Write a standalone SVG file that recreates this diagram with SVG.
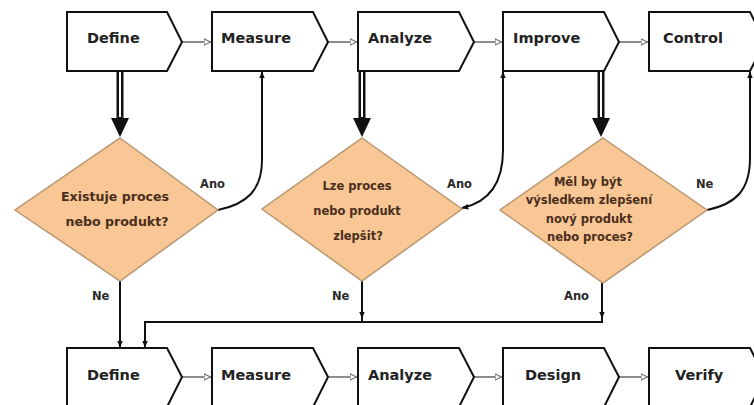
<svg xmlns="http://www.w3.org/2000/svg" width="754" height="405" viewBox="0 0 754 405">
  <defs>
    <style>
      .step { fill: #ffffff; stroke: #111111; stroke-width: 2; }
      .step-label { font-family: "DejaVu Sans", Verdana, sans-serif; font-size: 14.5px; font-weight: bold; fill: #222222; }
      .decision { fill: #F8C795; stroke: #B99670; stroke-width: 1.5; }
      .decision-label { font-family: "DejaVu Sans", Verdana, sans-serif; font-size: 11.5px; font-weight: bold; fill: #4a2e1c; text-anchor: middle; }
      .decision-label.large { font-size: 12.6px; }
      .branch-label { font-family: "DejaVu Sans", Verdana, sans-serif; font-size: 11.5px; font-weight: bold; fill: #2a2a2a; }
      .seq { fill: none; stroke: #666666; stroke-width: 1.5; marker-end: url(#open-tri); }
      .flow { fill: none; stroke: #111111; stroke-width: 2; }
      .flow-end { marker-end: url(#small-arrow); }
      .thick-outer { stroke: #111111; stroke-width: 7; fill: none; }
      .thick-inner { stroke: #ffffff; stroke-width: 2; fill: none; }
      .head { fill: #111111; }
    </style>
    <marker id="open-tri" viewBox="0 0 10 10" refX="10" refY="5" markerWidth="8" markerHeight="8" markerUnits="userSpaceOnUse" orient="auto">
      <path d="M0,1 L8,5 L0,9 Z" fill="#ffffff" stroke="#777777" stroke-width="1.5"/>
    </marker>
    <marker id="small-arrow" viewBox="0 0 10 10" refX="9" refY="5" markerWidth="7" markerHeight="7" markerUnits="userSpaceOnUse" orient="auto">
      <path d="M0,1 L10,5 L0,9 Z" fill="#111111"/>
    </marker>
    <marker id="small-arrow-start" viewBox="0 0 10 10" refX="1" refY="5" markerWidth="7" markerHeight="7" markerUnits="userSpaceOnUse" orient="auto">
      <path d="M10,1 L0,5 L10,9 Z" fill="#111111"/>
    </marker>
  </defs>

  <rect width="754" height="405" fill="#ffffff"/>

  <!-- connectors -->
  <g id="connectors">
    <!-- sequence links, top row -->
    <path class="seq" d="M182,42 H212"/>
    <path class="seq" d="M328,42 H358"/>
    <path class="seq" d="M474,42 H503"/>
    <path class="seq" d="M619,42 H649"/>
    <!-- sequence links, bottom row -->
    <path class="seq" d="M182,377 H212"/>
    <path class="seq" d="M328,377 H358"/>
    <path class="seq" d="M474,377 H503"/>
    <path class="seq" d="M619,377 H649"/>

    <!-- heavy arrows from steps into decisions -->
    <g>
      <line class="thick-outer" x1="120" y1="72" x2="120" y2="120"/>
      <line class="thick-inner" x1="120" y1="72" x2="120" y2="117"/>
      <polygon class="head" points="111,118 129,118 120,137"/>
      <line class="thick-outer" x1="362" y1="72" x2="362" y2="120"/>
      <line class="thick-inner" x1="362" y1="72" x2="362" y2="117"/>
      <polygon class="head" points="353,118 371,118 362,137"/>
      <line class="thick-outer" x1="601" y1="72" x2="601" y2="120"/>
      <line class="thick-inner" x1="601" y1="72" x2="601" y2="117"/>
      <polygon class="head" points="592,118 610,118 601,137"/>
    </g>

    <!-- decision branches looping back up -->
    <path class="flow flow-end" d="M218,210 C247,204 262,190 262,160 V72"/>
    <path class="flow flow-end" d="M503,72 V150 C503,182 490,202 462,208" style="marker-start:url(#small-arrow-start)"/>
    <path class="flow flow-end" d="M707,210 C736,204 750,190 750,158 V72"/>

    <!-- decision branches down to the lower row -->
    <path class="flow flow-end" d="M120,280 V347"/>
    <path class="flow flow-end" d="M362,280 V318"/>
    <path class="flow" d="M362,316 V322"/>
    <path class="flow flow-end" d="M602,282 V318"/>
    <path class="flow flow-end" d="M602,316 V322 H145 V347"/>
  </g>

  <!-- top row -->
  <g id="define-1">
    <path class="step" d="M67,12 H167 L182,42 L167,71 H67 Z"/>
    <text class="step-label" x="87" y="43">Define</text>
  </g>
  <g id="measure-1">
    <path class="step" d="M212,12 H313 L328,42 L313,71 H212 Z"/>
    <text class="step-label" x="221" y="43">Measure</text>
  </g>
  <g id="analyze-1">
    <path class="step" d="M358,12 H459 L474,42 L459,71 H358 Z"/>
    <text class="step-label" x="368" y="43">Analyze</text>
  </g>
  <g id="improve">
    <path class="step" d="M503,12 H604 L619,42 L604,71 H503 Z"/>
    <text class="step-label" x="513" y="43">Improve</text>
  </g>
  <g id="control">
    <path class="step" d="M649,12 H750 L765,42 L750,71 H649 Z"/>
    <text class="step-label" x="663" y="43">Control</text>
  </g>

  <!-- decisions -->
  <g id="decision-exists">
    <polygon class="decision" points="120,138 218,210 120,281 15,210"/>
    <text class="decision-label large" x="115" y="201">Existuje proces</text>
    <text class="decision-label large" x="117" y="226">nebo produkt?</text>
  </g>
  <g id="decision-improvable">
    <polygon class="decision" points="362,138 462,209 362,281 262,209"/>
    <text class="decision-label" x="357" y="190">Lze proces</text>
    <text class="decision-label" x="357" y="215">nebo produkt</text>
    <text class="decision-label" x="358" y="240">zlepšit?</text>
  </g>
  <g id="decision-new">
    <polygon class="decision" points="603,138 707,210 603,283 500,210"/>
    <text class="decision-label" x="588" y="186">Měl by být</text>
    <text class="decision-label" x="589" y="204">výsledkem zlepšení</text>
    <text class="decision-label" x="589" y="223">nový produkt</text>
    <text class="decision-label" x="590" y="241">nebo proces?</text>
  </g>

  <!-- branch labels -->
  <g id="branch-labels">
    <text class="branch-label" x="200" y="188">Ano</text>
    <text class="branch-label" x="447" y="188">Ano</text>
    <text class="branch-label" x="696" y="188">Ne</text>
    <text class="branch-label" x="92" y="300">Ne</text>
    <text class="branch-label" x="332" y="300">Ne</text>
    <text class="branch-label" x="564" y="300">Ano</text>
  </g>

  <!-- bottom row -->
  <g id="define-2">
    <path class="step" d="M67,348 H167 L182,377 L167,407 H67 Z"/>
    <text class="step-label" x="87" y="380">Define</text>
  </g>
  <g id="measure-2">
    <path class="step" d="M212,348 H313 L328,377 L313,407 H212 Z"/>
    <text class="step-label" x="221" y="380">Measure</text>
  </g>
  <g id="analyze-2">
    <path class="step" d="M358,348 H459 L474,377 L459,407 H358 Z"/>
    <text class="step-label" x="368" y="380">Analyze</text>
  </g>
  <g id="design">
    <path class="step" d="M503,348 H604 L619,377 L604,407 H503 Z"/>
    <text class="step-label" x="525" y="380">Design</text>
  </g>
  <g id="verify">
    <path class="step" d="M649,348 H750 L765,377 L750,407 H649 Z"/>
    <text class="step-label" x="675" y="380">Verify</text>
  </g>
</svg>
